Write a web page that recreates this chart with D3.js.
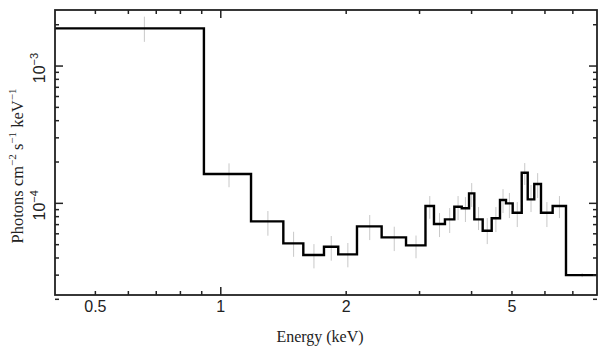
<!DOCTYPE html>
<html><head><meta charset="utf-8">
<script src="https://cdn.jsdelivr.net/npm/d3@7"></script>
<style>body{margin:0;background:#fff}svg{display:block}</style>
</head><body>
<script>
// Bin edges (keV)
const binEdges = [0.4, 0.911, 1.182, 1.413, 1.578, 1.769, 1.914, 2.123, 2.433, 2.784, 3.100,
  3.249, 3.452, 3.636, 3.788, 3.944, 4.061, 4.253, 4.470, 4.680, 4.838, 5.020, 5.277,
  5.455, 5.656, 5.870, 6.261, 6.740, 8.0];
// Model/data values per bin (photons cm^-2 s^-1 keV^-1)
const binValues = [1.88e-3, 1.634e-4, 7.39e-5, 5.11e-5, 4.20e-5, 4.83e-5, 4.25e-5, 6.80e-5,
  5.65e-5, 4.94e-5, 9.56e-5, 7.07e-5, 7.64e-5, 9.45e-5, 9.20e-5, 1.183e-4, 7.64e-5, 6.32e-5,
  7.78e-5, 1.057e-4, 1.0e-4, 8.54e-5, 1.671e-4, 1.069e-4, 1.382e-4, 8.54e-5, 9.56e-5, 3.00e-5];
// Error bar upper / lower values
const errHigh = [2.29e-3, 1.955e-4, 8.79e-5, 6.21e-5, 5.05e-5, 5.78e-5, 5.14e-5, 8.22e-5,
  6.76e-5, 5.83e-5, 1.13e-4, 8.50e-5, 9.24e-5, 1.13e-4, 1.11e-4, 1.405e-4, 9.40e-5, 7.81e-5,
  9.40e-5, 1.27e-4, 1.19e-4, 1.022e-4, 1.965e-4, 1.36e-4, 1.66e-4, 1.022e-4, 1.13e-4, 3.1e-5];
const errLow = [1.50e-3, 1.31e-4, 5.81e-5, 4.08e-5, 3.36e-5, 3.82e-5, 3.42e-5, 5.40e-5,
  4.49e-5, 3.98e-5, 7.72e-5, 5.68e-5, 6.08e-5, 7.55e-5, 7.31e-5, 9.40e-5, 6.39e-5, 5.05e-5,
  6.18e-5, 8.50e-5, 7.81e-5, 6.72e-5, 1.36e-4, 8.64e-5, 1.093e-4, 6.72e-5, 7.81e-5, 2.9e-5];

const xTickLabels = [0.5, 1, 2, 5];
const xMinorTicks = [0.5, 0.6, 0.7, 0.8, 0.9, 2, 3, 4, 5, 6, 7];
const xMajorTicks = [1];
const yMajorTicks = [1e-4, 1e-3];
const yMinorTicks = [2e-5,3e-5,4e-5,5e-5,6e-5,7e-5,8e-5,9e-5,2e-4,3e-4,4e-4,5e-4,6e-4,7e-4,8e-4,9e-4,2e-3];
const yTickExp = ["−4", "−3"];
const xTitle = "Energy (keV)";

const W = 609, H = 357;
const L = 55, R = 597, T = 10, B = 295;

const svg = d3.select("body").append("svg").attr("width", W).attr("height", H);

const x = d3.scaleLog().domain([0.4, 8]).range([L, R]);
const y = d3.scaleLog().domain([2.15e-5, 2.56e-3]).range([B, T]);

svg.append("defs").append("clipPath").attr("id", "clip")
  .append("rect").attr("x", L).attr("y", T).attr("width", R - L).attr("height", B - T);

const g = svg.append("g").attr("clip-path", "url(#clip)");

// Error bars (gray)
const centers = binValues.map((v, i) => (binEdges[i] + binEdges[i + 1]) / 2);
g.selectAll("line.err").data(binValues).enter().append("line")
  .attr("x1", (d, i) => x(centers[i])).attr("x2", (d, i) => x(centers[i]))
  .attr("y1", (d, i) => y(errHigh[i])).attr("y2", (d, i) => y(errLow[i]))
  .attr("stroke", "#c8c8c8").attr("stroke-width", 1);

// Step line
const pts = binValues.map((v, i) => [binEdges[i], v]);
pts.push([binEdges[binEdges.length - 1], binValues[binValues.length - 1]]);
const line = d3.line().x(d => x(d[0])).y(d => y(d[1])).curve(d3.curveStepAfter);
g.append("path").attr("d", line(pts)).attr("fill", "none")
  .attr("stroke", "#000").attr("stroke-width", 2.4).attr("stroke-linejoin", "miter");

// Frame
svg.append("rect").attr("x", L).attr("y", T).attr("width", R - L).attr("height", B - T)
  .attr("fill", "none").attr("stroke", "#222").attr("stroke-width", 1.8);

const tk = svg.append("g").attr("stroke", "#222").attr("stroke-width", 1.5);
// X ticks (bottom & top, inward)
const xTick = (v, len) => {
  tk.append("line").attr("x1", x(v)).attr("x2", x(v)).attr("y1", B).attr("y2", B - len);
  tk.append("line").attr("x1", x(v)).attr("x2", x(v)).attr("y1", T).attr("y2", T + len);
};
xMinorTicks.forEach(v => xTick(v, 4));
xMajorTicks.forEach(v => xTick(v, 8));
// Y ticks (left & right, inward)
const yTick = (v, len) => {
  tk.append("line").attr("x1", L).attr("x2", L + len).attr("y1", y(v)).attr("y2", y(v));
  tk.append("line").attr("x1", R).attr("x2", R - len).attr("y1", y(v)).attr("y2", y(v));
};
yMinorTicks.forEach(v => yTick(v, 4));
yMajorTicks.forEach(v => yTick(v, 8));

// X tick labels
svg.selectAll("text.xl").data(xTickLabels).enter().append("text")
  .attr("x", d => x(d)).attr("y", 312)
  .attr("text-anchor", "middle").attr("font-family", "Liberation Sans, Arial, sans-serif")
  .attr("font-size", 16).attr("fill", "#222").text(d => String(d));

// Y tick labels (rotated)
yMajorTicks.forEach((v, i) => {
  const t = svg.append("text")
    .attr("transform", `translate(45,${y(v) + 2}) rotate(-90)`)
    .attr("text-anchor", "middle").attr("font-family", "Liberation Sans, Arial, sans-serif")
    .attr("font-size", 16).attr("fill", "#222");
  t.append("tspan").text("10");
  t.append("tspan").attr("dy", -7).attr("font-size", 11).text(yTickExp[i]);
});

// Axis titles
svg.append("text").attr("x", 320).attr("y", 342).attr("text-anchor", "middle")
  .attr("font-family", "Liberation Serif, Times New Roman, serif").attr("font-size", 16)
  .attr("fill", "#222").text(xTitle);

const yt = svg.append("text").attr("transform", "translate(23,166) rotate(-90)")
  .attr("text-anchor", "middle").attr("font-family", "Liberation Serif, Times New Roman, serif")
  .attr("font-size", 16.5).attr("fill", "#222");
yt.append("tspan").text("Photons cm");
yt.append("tspan").attr("dy", -7).attr("font-size", 11).text("−2");
yt.append("tspan").attr("dy", 7).text(" s");
yt.append("tspan").attr("dy", -7).attr("font-size", 11).text("−1");
yt.append("tspan").attr("dy", 7).text(" keV");
yt.append("tspan").attr("dy", -7).attr("font-size", 11).text("−1");
</script>
</body></html>
